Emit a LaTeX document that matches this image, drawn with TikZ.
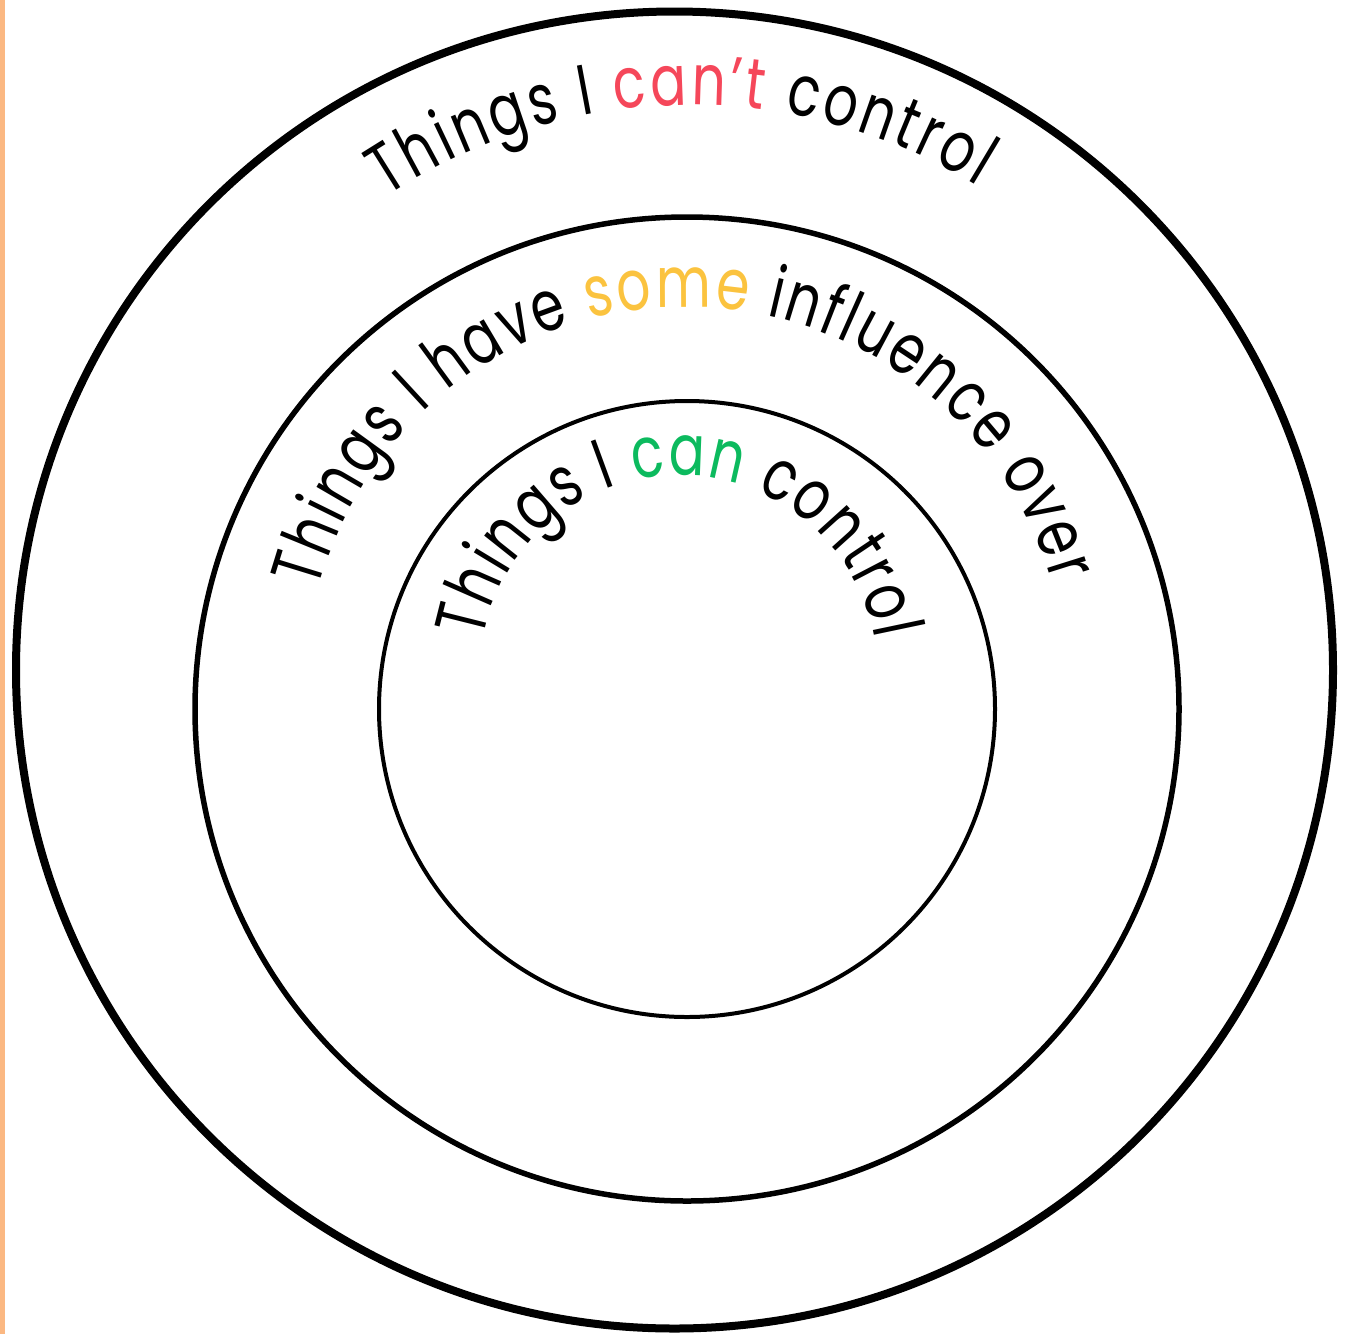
\documentclass[tikz,border=0pt]{standalone}
\usepackage{fontspec}
\setmainfont[FakeStretch=0.75]{Poppins}
\usetikzlibrary{decorations.text,calc}
\definecolor{cantred}{HTML}{F5475A}
\definecolor{someyellow}{HTML}{FBC33F}
\definecolor{cangreen}{HTML}{0CBA5E}
\definecolor{barorange}{HTML}{FBB882}
\begin{document}
\begin{tikzpicture}[x=0.5pt,y=0.5pt,
  ring/.style={draw=black},
  arctext/.style={decorate, decoration={text along path, text align=fit to path, text color=black, #1}}]
\fontsize{35.5}{42}\selectfont
\useasboundingbox (0,0) rectangle (1349,-1334);
\fill[barorange] (0,0) rectangle (5,-1334);
% circle centres
\coordinate (co) at (674.5,-670);
\coordinate (cm) at (687,-709);
\draw[ring, line width=4pt] (co) circle[radius=658.5];
\draw[ring, line width=2.75pt] (cm) circle[radius=492];
\draw[ring, line width=2pt] (cm) circle[radius=308];
% text arc centres
\coordinate (to) at (690,-655);
\coordinate (tm) at (686,-688);
\coordinate (ti) at (679,-674);
\path[arctext={text={Things I |\color{cantred}|can't|\color{black}| control}}]
  ($(to)+(123.5:550)$) arc[start angle=123.5, end angle=58.5, radius=550];
\path[arctext={text={Things I have |\color{someyellow}|some|\color{black}| influence over}}]
  ($(tm)+(165:381)$) arc[start angle=165, end angle=16, radius=381];
\path[arctext={text={Things I |\color{cangreen}|can|\color{black}| control}}]
  ($(ti)+(170:199)$) arc[start angle=170, end angle=10, radius=199];
\end{tikzpicture}
\end{document}
